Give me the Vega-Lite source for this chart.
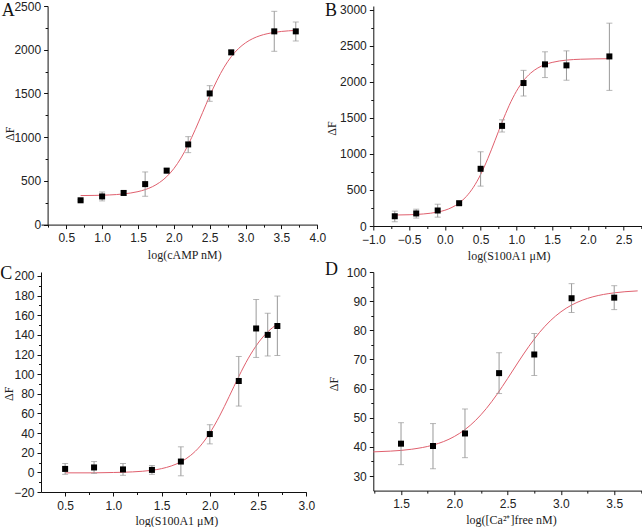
{
  "$schema": "https://vega.github.io/schema/vega-lite/v6.json",
  "padding": 0,
  "background": "white",
  "config": {
    "view": {"stroke": null},
    "axis": {
      "grid": false,
      "domainColor": "#111",
      "domainWidth": 1,
      "tickColor": "#111",
      "tickSize": 4,
      "labelFont": "Liberation Sans",
      "labelFontSize": 12,
      "labelColor": "#222",
      "labelFlush": false,
      "labelOverlap": false,
      "labelPadding": 3,
      "titleFont": "Liberation Serif",
      "titleFontSize": 12,
      "titleFontWeight": "normal",
      "titleColor": "#222",
      "titleBaseline": "alphabetic",
      "titleAlign": "center"
    },
    "title": {"font": "Liberation Serif", "fontSize": 18, "fontWeight": "normal", "color": "#111", "anchor": "start", "frame": "group", "offset": 0, "baseline": "alphabetic"}
  },
  "datasets": {
    "A_pts": [
      {"x": 0.7, "y": 278, "lo": 268, "hi": 288},
      {"x": 1.0, "y": 322, "lo": 271, "hi": 373},
      {"x": 1.3, "y": 362, "lo": 335, "hi": 385},
      {"x": 1.6, "y": 463, "lo": 324, "hi": 602},
      {"x": 1.9, "y": 617, "lo": 591, "hi": 644},
      {"x": 2.2, "y": 917, "lo": 823, "hi": 1006},
      {"x": 2.5, "y": 1500, "lo": 1410, "hi": 1589},
      {"x": 2.8, "y": 1970, "lo": 1944, "hi": 1993},
      {"x": 3.4, "y": 2210, "lo": 1982, "hi": 2439},
      {"x": 3.7, "y": 2210, "lo": 2100, "hi": 2317}
    ],
    "A_fit": [
      {"x": 0.7, "y": 332}, {"x": 0.9, "y": 334}, {"x": 1.1, "y": 339}, {"x": 1.3, "y": 351},
      {"x": 1.5, "y": 377}, {"x": 1.6, "y": 400}, {"x": 1.7, "y": 433}, {"x": 1.8, "y": 481},
      {"x": 1.9, "y": 548}, {"x": 2.0, "y": 640}, {"x": 2.1, "y": 762}, {"x": 2.2, "y": 913},
      {"x": 2.3, "y": 1089}, {"x": 2.4, "y": 1280}, {"x": 2.5, "y": 1471}, {"x": 2.6, "y": 1647},
      {"x": 2.7, "y": 1799}, {"x": 2.8, "y": 1920}, {"x": 2.9, "y": 2012}, {"x": 3.0, "y": 2079},
      {"x": 3.1, "y": 2127}, {"x": 3.2, "y": 2160}, {"x": 3.4, "y": 2198}, {"x": 3.6, "y": 2216},
      {"x": 3.7, "y": 2221}
    ],
    "B_pts": [
      {"x": -0.7, "y": 135, "lo": 59, "hi": 206},
      {"x": -0.4, "y": 174, "lo": 110, "hi": 233},
      {"x": -0.1, "y": 215, "lo": 123, "hi": 302},
      {"x": 0.2, "y": 316, "lo": 297, "hi": 334},
      {"x": 0.5, "y": 793, "lo": 553, "hi": 1029},
      {"x": 0.8, "y": 1388, "lo": 1303, "hi": 1472},
      {"x": 1.1, "y": 1982, "lo": 1802, "hi": 2158},
      {"x": 1.4, "y": 2241, "lo": 2058, "hi": 2415},
      {"x": 1.7, "y": 2227, "lo": 2021, "hi": 2428},
      {"x": 2.3, "y": 2351, "lo": 1880, "hi": 2812}
    ],
    "B_fit": [
      {"x": -0.7, "y": 152}, {"x": -0.5, "y": 156}, {"x": -0.3, "y": 167}, {"x": -0.1, "y": 193},
      {"x": 0.0, "y": 218}, {"x": 0.1, "y": 258}, {"x": 0.2, "y": 318}, {"x": 0.3, "y": 409},
      {"x": 0.4, "y": 538}, {"x": 0.5, "y": 713}, {"x": 0.6, "y": 933}, {"x": 0.7, "y": 1183},
      {"x": 0.8, "y": 1439}, {"x": 0.9, "y": 1673}, {"x": 1.0, "y": 1867}, {"x": 1.1, "y": 2015},
      {"x": 1.2, "y": 2120}, {"x": 1.3, "y": 2191}, {"x": 1.4, "y": 2238}, {"x": 1.5, "y": 2268},
      {"x": 1.7, "y": 2300}, {"x": 1.9, "y": 2312}, {"x": 2.1, "y": 2317}, {"x": 2.3, "y": 2319}
    ],
    "C_pts": [
      {"x": 0.5, "y": 3.5, "lo": -2, "hi": 9},
      {"x": 0.8, "y": 5, "lo": -1, "hi": 11},
      {"x": 1.1, "y": 3, "lo": -3, "hi": 9},
      {"x": 1.4, "y": 2.5, "lo": -2, "hi": 7},
      {"x": 1.7, "y": 11, "lo": -3.5, "hi": 26},
      {"x": 2.0, "y": 39, "lo": 29, "hi": 48.5},
      {"x": 2.3, "y": 93, "lo": 67.5, "hi": 118},
      {"x": 2.48, "y": 146.5, "lo": 117, "hi": 176},
      {"x": 2.6, "y": 140, "lo": 118.5, "hi": 162},
      {"x": 2.7, "y": 149, "lo": 119, "hi": 179.5}
    ],
    "C_fit": [
      {"x": 0.5, "y": -0.5}, {"x": 0.8, "y": -0.5}, {"x": 1.0, "y": -0.14}, {"x": 1.1, "y": 0.1},
      {"x": 1.2, "y": 0.48}, {"x": 1.3, "y": 1.1}, {"x": 1.4, "y": 2.1}, {"x": 1.5, "y": 3.8},
      {"x": 1.6, "y": 6.5}, {"x": 1.7, "y": 10.7}, {"x": 1.8, "y": 17.2}, {"x": 1.9, "y": 26.7},
      {"x": 2.0, "y": 40.1}, {"x": 2.1, "y": 57.2}, {"x": 2.2, "y": 77.1}, {"x": 2.3, "y": 97.6},
      {"x": 2.4, "y": 116.3}, {"x": 2.5, "y": 131.6}, {"x": 2.6, "y": 143.0}, {"x": 2.7, "y": 151.0}
    ],
    "D_pts": [
      {"x": 1.5, "y": 41.1, "lo": 33.9, "hi": 48.3},
      {"x": 1.8, "y": 40.3, "lo": 32.5, "hi": 48},
      {"x": 2.1, "y": 44.6, "lo": 36.3, "hi": 53},
      {"x": 2.42, "y": 65.3, "lo": 58.3, "hi": 72.3},
      {"x": 2.75, "y": 71.7, "lo": 64.5, "hi": 78.9},
      {"x": 3.1, "y": 91, "lo": 86.1, "hi": 96},
      {"x": 3.5, "y": 91.2, "lo": 87.1, "hi": 95.3}
    ],
    "D_fit": [
      {"x": 1.24, "y": 38.29}, {"x": 1.4, "y": 38.54}, {"x": 1.6, "y": 39.19}, {"x": 1.8, "y": 40.62},
      {"x": 1.9, "y": 41.83}, {"x": 2.0, "y": 43.56}, {"x": 2.1, "y": 45.93}, {"x": 2.2, "y": 49.1},
      {"x": 2.3, "y": 53.15}, {"x": 2.4, "y": 58.01}, {"x": 2.5, "y": 63.46}, {"x": 2.6, "y": 69.11},
      {"x": 2.7, "y": 74.51}, {"x": 2.8, "y": 79.29}, {"x": 2.9, "y": 83.25}, {"x": 3.0, "y": 86.34},
      {"x": 3.1, "y": 88.65}, {"x": 3.2, "y": 90.31}, {"x": 3.3, "y": 91.49}, {"x": 3.4, "y": 92.3},
      {"x": 3.5, "y": 92.85}, {"x": 3.6, "y": 93.23}, {"x": 3.72, "y": 93.52}
    ]
  },
  "bounds": "flush",
  "columns": 2,
  "spacing": {"row": 46, "column": 55.3},
  "concat": [
    {
      "width": 276.3,
      "height": 218.6,
      "title": {"text": "A", "dx": -39.2, "dy": 23.8},
      "resolve": {"axis": {"x": "independent", "y": "independent"}},
      "layer": [
        {
          "data": {"name": "A_fit"},
          "mark": {"type": "line", "color": "#e0606e", "strokeWidth": 1, "interpolate": "monotone"},
          "encoding": {
            "x": {"field": "x", "type": "quantitative", "title": "log(cAMP nM)", "scale": {"domain": [0.148, 4.0], "nice": false, "zero": false},
              "axis": {"orient": "bottom", "titleX": 143.3, "titleY": 34.2, "format": ".1f", "labelPadding": 4,
                "values": [0.5, 1.0, 1.5, 2.0, 2.5, 3.0, 3.5, 4.0]}},
            "y": {"field": "y", "type": "quantitative", "title": "ΔF", "scale": {"domain": [0, 2500], "nice": false, "zero": false},
              "axis": {"orient": "left", "offset": -6.6, "titleX": -34, "titleY": 127.3, "format": "d",
                "values": [0, 500, 1000, 1500, 2000, 2500]}}
          }
        },
        {
          "data": {"name": "A_pts"},
          "mark": {"type": "errorbar", "color": "#999", "ticks": {"size": 6}},
          "encoding": {
            "x": {"field": "x", "type": "quantitative", "axis": null},
            "y": {"field": "lo", "type": "quantitative", "axis": null},
            "y2": {"field": "hi"}
          }
        },
        {
          "data": {"name": "A_pts"},
          "mark": {"type": "square", "size": 36, "color": "#000", "opacity": 1, "filled": true},
          "encoding": {
            "x": {"field": "x", "type": "quantitative",
              "axis": {"orient": "bottom", "title": null, "labels": false, "domain": false, "tickSize": 2.5,
                "values": [0.25, 0.75, 1.25, 1.75, 2.25, 2.75, 3.25, 3.75]}},
            "y": {"field": "y", "type": "quantitative",
              "axis": {"orient": "left", "offset": -6.6, "title": null, "labels": false, "domain": false, "tickSize": 2.5,
                "values": [250, 750, 1250, 1750, 2250]}}
          }
        }
      ]
    },
    {
      "width": 269.7,
      "height": 220,
      "title": {"text": "B", "dx": -48.3, "dy": 20.2},
      "resolve": {"axis": {"x": "independent", "y": "independent"}},
      "layer": [
        {
          "data": {"name": "B_fit"},
          "mark": {"type": "line", "color": "#e0606e", "strokeWidth": 1, "interpolate": "monotone"},
          "encoding": {
            "x": {"field": "x", "type": "quantitative", "title": "log(S100A1 μM)", "scale": {"domain": [-1.0, 2.77], "nice": false, "zero": false},
              "axis": {"orient": "bottom", "titleX": 135.4, "titleY": 33.3, "format": ".1f", "labelPadding": 4,
                "values": [-1.0, -0.5, 0.0, 0.5, 1.0, 1.5, 2.0, 2.5]}},
            "y": {"field": "y", "type": "quantitative", "title": "ΔF", "scale": {"domain": [0, 3050], "nice": false, "zero": false},
              "axis": {"orient": "left", "titleX": -37.8, "titleY": 122, "format": "d",
                "values": [0, 500, 1000, 1500, 2000, 2500, 3000]}}
          }
        },
        {
          "data": {"name": "B_pts"},
          "mark": {"type": "errorbar", "color": "#999", "ticks": {"size": 6}},
          "encoding": {
            "x": {"field": "x", "type": "quantitative", "axis": null},
            "y": {"field": "lo", "type": "quantitative", "axis": null},
            "y2": {"field": "hi"}
          }
        },
        {
          "data": {"name": "B_pts"},
          "mark": {"type": "square", "size": 36, "color": "#000", "opacity": 1, "filled": true},
          "encoding": {
            "x": {"field": "x", "type": "quantitative",
              "axis": {"orient": "bottom", "title": null, "labels": false, "domain": false, "tickSize": 2.5,
                "values": [-0.75, -0.25, 0.25, 0.75, 1.25, 1.75, 2.25, 2.75]}},
            "y": {"field": "y", "type": "quantitative",
              "axis": {"orient": "left", "title": null, "labels": false, "domain": false, "tickSize": 2.5,
                "values": [250, 750, 1250, 1750, 2250, 2750]}}
          }
        }
      ]
    },
    {
      "width": 265.3,
      "height": 220,
      "title": {"text": "C", "dx": -40.7, "dy": 16.8},
      "resolve": {"axis": {"x": "independent", "y": "independent"}},
      "layer": [
        {
          "data": {"name": "C_fit"},
          "mark": {"type": "line", "color": "#e0606e", "strokeWidth": 1, "interpolate": "monotone"},
          "encoding": {
            "x": {"field": "x", "type": "quantitative", "title": "log(S100A1 μM)", "scale": {"domain": [0.25, 3.0], "nice": false, "zero": false},
              "axis": {"orient": "bottom", "titleX": 135.3, "titleY": 32.3, "format": ".1f", "labelPadding": 4,
                "values": [0.5, 1.0, 1.5, 2.0, 2.5, 3.0]}},
            "y": {"field": "y", "type": "quantitative", "title": "ΔF", "scale": {"domain": [-20, 204], "nice": false, "zero": false},
              "axis": {"orient": "left", "titleX": -28.7, "titleY": 121.3, "format": "d",
                "values": [-20, 0, 20, 40, 60, 80, 100, 120, 140, 160, 180, 200]}}
          }
        },
        {
          "data": {"name": "C_pts"},
          "mark": {"type": "errorbar", "color": "#999", "ticks": {"size": 6}},
          "encoding": {
            "x": {"field": "x", "type": "quantitative", "axis": null},
            "y": {"field": "lo", "type": "quantitative", "axis": null},
            "y2": {"field": "hi"}
          }
        },
        {
          "data": {"name": "C_pts"},
          "mark": {"type": "square", "size": 36, "color": "#000", "opacity": 1, "filled": true},
          "encoding": {
            "x": {"field": "x", "type": "quantitative",
              "axis": {"orient": "bottom", "title": null, "labels": false, "domain": false, "tickSize": 2.5,
                "values": [0.75, 1.25, 1.75, 2.25, 2.75]}},
            "y": {"field": "y", "type": "quantitative",
              "axis": {"orient": "left", "title": null, "labels": false, "domain": false, "tickSize": 2.5,
                "values": [-10, 10, 30, 50, 70, 90, 110, 130, 150, 170, 190]}}
          }
        }
      ]
    },
    {
      "width": 269.7,
      "height": 218.6,
      "title": {"text": "D", "dx": -48.3, "dy": 16.6},
      "resolve": {"axis": {"x": "independent", "y": "independent"}},
      "layer": [
        {
          "data": {"name": "D_fit"},
          "mark": {"type": "line", "color": "#e0606e", "strokeWidth": 1, "interpolate": "monotone"},
          "encoding": {
            "x": {"field": "x", "type": "quantitative", "title": "log([Ca²⁺]free nM)", "scale": {"domain": [1.24, 3.77], "nice": false, "zero": false},
              "axis": {"orient": "bottom", "titleX": 137.7, "titleY": 33, "format": ".1f", "labelPadding": 4,
                "values": [1.5, 2.0, 2.5, 3.0, 3.5]}},
            "y": {"field": "y", "type": "quantitative", "title": "ΔF", "scale": {"domain": [25, 100], "nice": false, "zero": false},
              "axis": {"orient": "left", "titleX": -36.3, "titleY": 111.6, "format": "d",
                "values": [30, 40, 50, 60, 70, 80, 90, 100]}}
          }
        },
        {
          "data": {"name": "D_pts"},
          "mark": {"type": "errorbar", "color": "#999", "ticks": {"size": 6}},
          "encoding": {
            "x": {"field": "x", "type": "quantitative", "axis": null},
            "y": {"field": "lo", "type": "quantitative", "axis": null},
            "y2": {"field": "hi"}
          }
        },
        {
          "data": {"name": "D_pts"},
          "mark": {"type": "square", "size": 36, "color": "#000", "opacity": 1, "filled": true},
          "encoding": {
            "x": {"field": "x", "type": "quantitative",
              "axis": {"orient": "bottom", "title": null, "labels": false, "domain": false, "tickSize": 2.5,
                "values": [1.25, 1.75, 2.25, 2.75, 3.25, 3.75]}},
            "y": {"field": "y", "type": "quantitative",
              "axis": {"orient": "left", "title": null, "labels": false, "domain": false, "tickSize": 2.5,
                "values": [35, 45, 55, 65, 75, 85, 95]}}
          }
        }
      ]
    }
  ]
}
